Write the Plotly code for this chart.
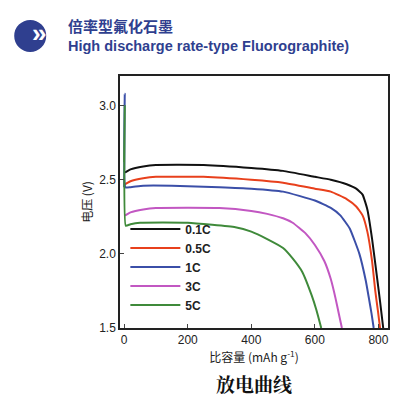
import plotly.graph_objects as go

series = ["0.1C", "0.5C", "1C", "3C", "5C"]
colors = ["#111111", "#e8401c", "#3b4fa8", "#c257c2", "#3f8a3a"]
cap = {
 "0.1C": [0, 3, 20, 60, 100, 250, 400, 500, 600, 650, 700, 730, 750, 765, 780, 795, 805, 815],
 "0.5C": [0, 3, 20, 60, 100, 250, 400, 500, 600, 650, 700, 730, 750, 765, 780, 790, 798, 805],
 "1C":   [0, 2, 4, 20, 60, 150, 300, 400, 500, 600, 650, 680, 710, 740, 760, 770, 778, 785],
 "3C":   [0, 3, 20, 60, 100, 300, 400, 450, 500, 530, 570, 600, 630, 650, 665, 675, 685],
 "5C":   [0, 2, 5, 20, 50, 200, 350, 400, 450, 500, 530, 560, 590, 605, 620],
}
volt = {
 "0.1C": [2.55, 2.55, 2.57, 2.59, 2.60, 2.60, 2.58, 2.56, 2.52, 2.50, 2.47, 2.44, 2.40, 2.30, 2.10, 1.85, 1.68, 1.50],
 "0.5C": [2.47, 2.47, 2.49, 2.51, 2.52, 2.52, 2.50, 2.48, 2.44, 2.42, 2.37, 2.32, 2.26, 2.15, 1.95, 1.75, 1.62, 1.50],
 "1C":   [2.45, 3.08, 2.45, 2.45, 2.46, 2.46, 2.45, 2.44, 2.42, 2.36, 2.31, 2.26, 2.17, 2.00, 1.82, 1.70, 1.60, 1.50],
 "3C":   [2.26, 2.26, 2.28, 2.30, 2.31, 2.31, 2.29, 2.27, 2.24, 2.21, 2.14, 2.06, 1.95, 1.83, 1.70, 1.60, 1.50],
 "5C":   [2.62, 3.00, 2.19, 2.20, 2.21, 2.21, 2.18, 2.15, 2.10, 2.04, 1.97, 1.88, 1.72, 1.62, 1.50],
}
x_ticks = [0, 200, 400, 600, 800]
y_ticks = [1.5, 2.0, 2.5, 3.0]

fig = go.Figure()
for s, c in zip(series, colors):
    fig.add_trace(go.Scatter(x=cap[s], y=volt[s], mode="lines", name="<b>" + s + "</b>",
                             line=dict(color=c, width=2, shape="spline", smoothing=0.4)))

fig.update_layout(
    width=420, height=407, paper_bgcolor="white", plot_bgcolor="white",
    margin=dict(l=112, r=40, t=68, b=87),
    showlegend=True,
    legend=dict(x=0.02, y=0.45, xanchor="left", yanchor="top", bgcolor="rgba(0,0,0,0)",
                font=dict(family="Arial", size=12, color="#222"), itemwidth=50, tracegroupgap=0),
    font=dict(family="Arial", color="#222"),
)
fig.update_xaxes(range=[-13, 830], tickvals=x_ticks, showgrid=False, zeroline=False,
                 showline=True, linecolor="#222", linewidth=1.5, mirror=True,
                 ticks="inside", ticklen=4, tickfont=dict(size=12, family="Arial Black, Arial"),
                 title=dict(text="比容量 (mAh g<sup>-1</sup>)", font=dict(size=12, family="Noto Sans CJK SC"), standoff=2))
fig.update_yaxes(range=[1.5, 3.2], tickvals=y_ticks, tickformat=".1f", showgrid=False, zeroline=False,
                 showline=True, linecolor="#222", linewidth=1.5, mirror=True,
                 ticks="inside", ticklen=4, tickfont=dict(size=12, family="Arial Black, Arial"),
                 title=dict(text="电压 (V)", font=dict(size=12, family="Noto Sans CJK SC"), standoff=4))

fig.add_shape(type="circle", xref="paper", yref="paper", xsizemode="pixel", ysizemode="pixel",
              xanchor=-0.335, yanchor=1.159, x0=-16, x1=16, y0=-16, y1=16,
              fillcolor="#2f3f8f", line=dict(width=0))
fig.add_annotation(xref="paper", yref="paper", x=-0.335, y=1.159, yanchor="middle", text="<b>»</b>", showarrow=False,
                   font=dict(size=26, color="white", family="Arial"), yshift=3)
fig.add_annotation(xref="paper", yref="paper", x=-0.2, y=1.2, xanchor="left", yanchor="middle",
                   text="<b>倍率型氟化石墨</b>",
                   showarrow=False, font=dict(size=15, color="#2f3f8f", family="Noto Sans CJK SC"))
fig.add_annotation(xref="paper", yref="paper", x=-0.2, y=1.119, xanchor="left", yanchor="middle",
                   text="<b>High discharge rate-type Fluorographite)</b>",
                   showarrow=False, font=dict(size=14.5, color="#2f3f8f", family="Arial"))
fig.add_annotation(xref="paper", yref="paper", x=0.5, y=-0.28, text="<b>放电曲线</b>", showarrow=False,
                   font=dict(size=19, color="#111", family="Noto Serif CJK SC, Noto Sans CJK SC"))

fig.write_html("out.html")
